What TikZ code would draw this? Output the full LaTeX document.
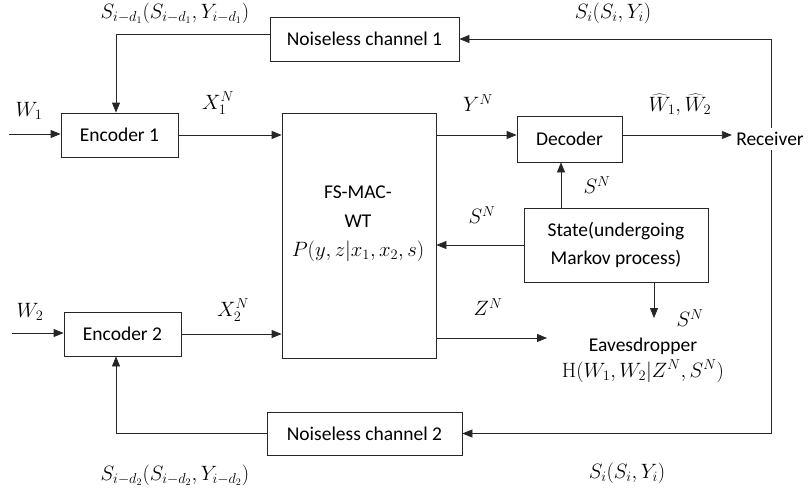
\documentclass[tikz,border=0pt]{standalone}
\usepackage[no-math]{fontspec}
\setmainfont{Carlito}
\usetikzlibrary{arrows.meta}
\begin{document}
\begin{tikzpicture}[x=1pt,y=-1pt,
  font=\fontsize{19.5}{23}\selectfont,
  line width=0.8pt, draw=black!85,
  >={Triangle[length=10pt,width=8pt]},
  box/.style={draw, inner sep=0pt},
  lbl/.style={inner sep=0pt}]
\useasboundingbox (0,0) rectangle (811,490);

% boxes
\node[box, minimum width=189pt, minimum height=44pt] (nc1) at (364.5,39) {Noiseless channel 1};
\node[box, minimum width=117pt, minimum height=44pt] (enc1) at (119.5,135) {Encoder 1};
\node[box, minimum width=154pt, minimum height=245pt] (fs) at (359,235.5) {};
\node[lbl, align=center, font=\fontsize{19.5}{29}\selectfont] (fstext) at (358,224) {FS-MAC-\\WT\\$P(y,z|x_1,x_2,s)$};
\node[box, minimum width=105pt, minimum height=46pt] (dec) at (569.5,139) {Decoder};
\node[inner sep=4pt] (rec) at (770,139) {Receiver};
\node[box, align=center, minimum width=184pt, minimum height=74pt, font=\fontsize{19.5}{28}\selectfont] (state) at (616,245) {State(undergoing\\Markov process)};
\node[lbl, align=center, font=\fontsize{19.5}{26}\selectfont] (eav) at (643,360) {Eavesdropper\\$\mathrm{H}(W_1,W_2|Z^N,S^N)$};
\node[box, minimum width=117pt, minimum height=44pt] (enc2) at (122.5,334) {Encoder 2};
\node[box, minimum width=195pt, minimum height=43pt] (nc2) at (364.5,433.5) {Noiseless channel 2};

% helper coordinates
\coordinate (w1in) at (9,134);
\coordinate (w2in) at (12,333);
\coordinate (yrow) at (0,135);
\coordinate (sx) at (561,0);
\coordinate (stend) at (654,318);
\coordinate (zend) at (547,338);

% connectors
\draw[->] (w1in) -- (enc1.west |- w1in);
\draw[->] (w2in) -- (enc2.west |- w2in);
\draw[->] (enc1.east) -- (fs.west |- enc1.east);
\draw[->] (enc2.east) -- (fs.west |- enc2.east);
\draw[->] (fs.east |- yrow) -- (dec.west |- yrow);
\draw[->] (dec.east |- yrow) -- (rec.west |- yrow);
\draw[->] (state.north -| sx) -- (dec.south -| sx);
\draw[->] (state.west) -- (fs.east |- state.west);
\draw[->] (state.south -| stend) -- (stend);
\draw[->] (fs.east |- zend) -- (zend);
\draw[->] ([xshift=1pt]rec.north) |- (nc1.east);
\draw[->] ([xshift=1pt]rec.south) |- (nc2.east);
\draw[->] ([yshift=5pt]nc1.west) -| ([xshift=-3.5pt]enc1.north);
\draw[->] (nc2.west) -| ([xshift=-6.5pt]enc2.south);

% labels
\node[lbl] (l1) at (175,13) {$S_{i-d_1}(S_{i-d_1},Y_{i-d_1})$};
\node[lbl] (l2) at (613,13) {$S_i(S_i,Y_i)$};
\node[lbl] (l3) at (29,111) {$W_1$};
\node[lbl] (l4) at (218,103) {$X_1^N$};
\node[lbl] (l5) at (478,103) {$Y^N$};
\node[lbl] (l6) at (680,105) {$\widehat{W}_1,\widehat{W}_2$};
\node[lbl] (l7) at (597,185) {$S^N$};
\node[lbl] (l8) at (482,215) {$S^N$};
\node[lbl] (l9) at (690,318) {$S^N$};
\node[lbl] (l10) at (488,307) {$Z^N$};
\node[lbl] (l11) at (30,312) {$W_2$};
\node[lbl] (l12) at (233,310) {$X_2^N$};
\node[lbl] (l13) at (175,475) {$S_{i-d_2}(S_{i-d_2},Y_{i-d_2})$};
\node[lbl] (l14) at (627,473) {$S_i(S_i,Y_i)$};
\end{tikzpicture}
\end{document}
